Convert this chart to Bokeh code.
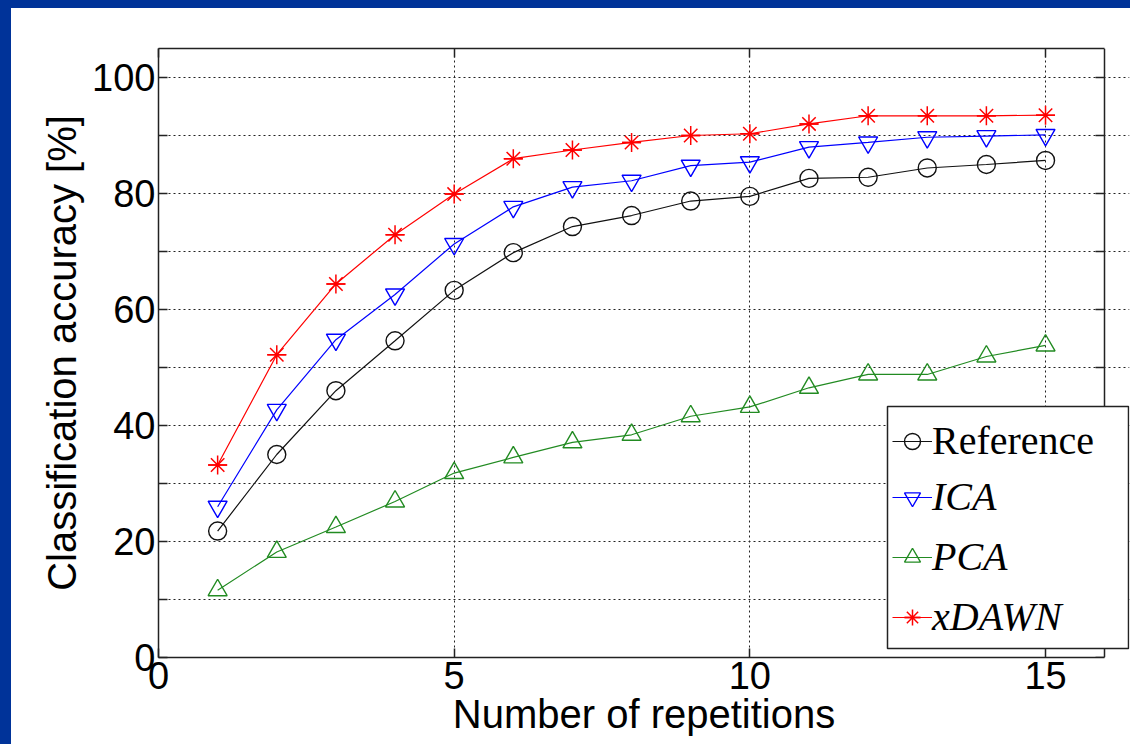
from bokeh.plotting import figure
from bokeh.models import (Range1d, FixedTicker, LinearAxis, Legend, LegendItem,
                          BoxAnnotation)
from bokeh.layouts import column
from bokeh.embed import file_html
from bokeh.resources import INLINE

# ---------------- data ----------------
repetitions = [1, 2, 3, 4, 5, 6, 7, 8, 9, 10, 11, 12, 13, 14, 15]
reference = [21.8, 35.0, 46.0, 54.6, 63.3, 69.8, 74.3, 76.2, 78.7, 79.5, 82.6, 82.8, 84.4, 85.0, 85.7]
ica = [26.0, 42.7, 54.8, 62.6, 71.3, 77.7, 81.1, 82.2, 84.8, 85.4, 88.0, 88.8, 89.7, 89.9, 90.1]
pca = [11.6, 18.2, 22.5, 26.9, 31.8, 34.5, 37.1, 38.4, 41.6, 43.2, 46.5, 48.8, 48.8, 51.9, 53.8]
xdawn = [33.2, 52.2, 64.4, 72.9, 79.9, 86.0, 87.5, 88.8, 90.0, 90.3, 92.0, 93.4, 93.4, 93.4, 93.5]

x_ticks = [0, 5, 10, 15]
x_grid = [5, 10, 15]
x_axis_end = 16
y_ticks = [0, 10, 20, 30, 40, 50, 60, 70, 80, 90, 100]
y_tick_labels = ["0", "", "20", "", "40", "", "60", "", "80", "", "100"]

series_names = ["Reference", "ICA", "PCA", "xDAWN"]
series_colors = ["#111111", "#0000ff", "#228b22", "#ff0000"]

x_label = "Number of repetitions"
y_label = "Classification accuracy [%]"

# ---------------- figure ----------------
SANS = "Liberation Sans"
SERIF = "Liberation Serif"
AX = "#222222"
PAGE_BLUE = "#003399"

p = figure(width=1119, height=736,
           x_range=Range1d(0, 16.42), y_range=Range1d(0, 105),
           output_backend="svg", toolbar_location=None,
           min_border_left=147, min_border_right=1,
           min_border_top=40, min_border_bottom=87,
           background_fill_color="white", border_fill_color="white",
           outline_line_color=None)
p.margin = (8, 0, 0, 11)

bottom_axis = p.below[0]
left_axis = p.left[0]

# grids
xg = p.xgrid[0]
yg = p.ygrid[0]
xg.ticker = FixedTicker(ticks=x_grid)
yg.ticker = FixedTicker(ticks=y_ticks[1:])
yg.bounds = (0, x_axis_end)
for g in (xg, yg):
    g.grid_line_color = AX
    g.grid_line_dash = "2 3"
    g.grid_line_width = 1

# axes
y_over = {t: l for t, l in zip(y_ticks, y_tick_labels)}
blank_y = {t: "" for t in y_ticks}
blank_x = {t: "" for t in x_ticks}

bottom_axis.ticker = FixedTicker(ticks=x_ticks)
bottom_axis.bounds = (0, x_axis_end)
left_axis.ticker = FixedTicker(ticks=y_ticks)
left_axis.major_label_overrides = y_over

top_axis = LinearAxis(ticker=FixedTicker(ticks=x_ticks), major_label_overrides=blank_x,
                      bounds=(0, x_axis_end))
right_axis = LinearAxis(ticker=FixedTicker(ticks=y_ticks), major_label_overrides=blank_y,
                        fixed_location=x_axis_end)
p.add_layout(top_axis, "above")
p.add_layout(right_axis, "right")

for ax in (bottom_axis, left_axis, top_axis, right_axis):
    ax.axis_line_color = AX
    ax.axis_line_width = 1.5
    ax.major_tick_line_color = AX
    ax.major_tick_line_width = 1.5
    ax.major_tick_in = 9
    ax.major_tick_out = 0
    ax.minor_tick_line_color = None
    ax.major_label_text_font = SANS
    ax.major_label_text_font_size = "38px"
    ax.major_label_text_color = "black"
    ax.axis_label_text_font = SANS
    ax.axis_label_text_font_size = "40px"
    ax.axis_label_text_font_style = "normal"
    ax.axis_label_text_color = "black"

for ax in (top_axis, right_axis):
    ax.major_label_text_font_size = "1px"
    ax.major_label_standoff = 0

bottom_axis.axis_label = x_label
left_axis.axis_label = y_label
bottom_axis.major_label_standoff = 4
bottom_axis.axis_label_standoff = 0
left_axis.major_label_standoff = 3
left_axis.axis_label_standoff = 5

# series
markers = ["circle", "inverted_triangle", "triangle", "asterisk"]
series_vals = [reference, ica, pca, xdawn]
items_r = []
for name, col, mk, vals in zip(series_names, series_colors, markers, series_vals):
    ln = p.line(repetitions, vals, line_color=col, line_width=1.2)
    rs = [ln]
    if mk == "asterisk":
        s1 = p.scatter(repetitions, vals, marker="asterisk", size=19,
                       line_color=col, line_width=1.5)
        s2 = p.scatter(repetitions, vals, marker="dash", size=19,
                       line_color=col, line_width=1.5)
        rs += [s1, s2]
    else:
        sz = 18 if mk == "circle" else 19
        s = p.scatter(repetitions, vals, marker=mk, size=sz, line_color=col,
                      line_width=1.4, fill_alpha=0)
        rs.append(s)
    items_r.append((name, rs))

# legend frame
box = BoxAnnotation(left=729, right=970, bottom=9, top=251,
                    left_units="screen", right_units="screen",
                    top_units="screen", bottom_units="screen",
                    fill_color="white", fill_alpha=1.0,
                    line_color=AX, line_width=1.5, line_alpha=1.0)
p.add_layout(box)

common = dict(padding=7, glyph_width=40, glyph_height=44, label_standoff=0,
              label_text_font=SERIF, label_text_font_size="40px",
              label_height=44, label_text_color="black",
              background_fill_alpha=0, border_line_alpha=0, margin=0)

leg_a = Legend(items=[LegendItem(label=items_r[0][0], renderers=items_r[0][1])],
               location=(727, 186), spacing=0, label_text_font_style="normal",
               **common)
leg_b = Legend(items=[LegendItem(label=n, renderers=r) for n, r in items_r[1:]],
               location=(727, 10), spacing=13, label_text_font_style="italic",
               **common)
p.add_layout(leg_a)
p.add_layout(leg_b)

bg = (f"linear-gradient({PAGE_BLUE},{PAGE_BLUE}) left top / 11px 100% no-repeat, "
      f"linear-gradient({PAGE_BLUE},{PAGE_BLUE}) left top / 100% 8px no-repeat, #ffffff")
layout = column(p, width=1130, height=744, styles={"background": bg})

open("out.html", "w").write(file_html(layout, INLINE))
